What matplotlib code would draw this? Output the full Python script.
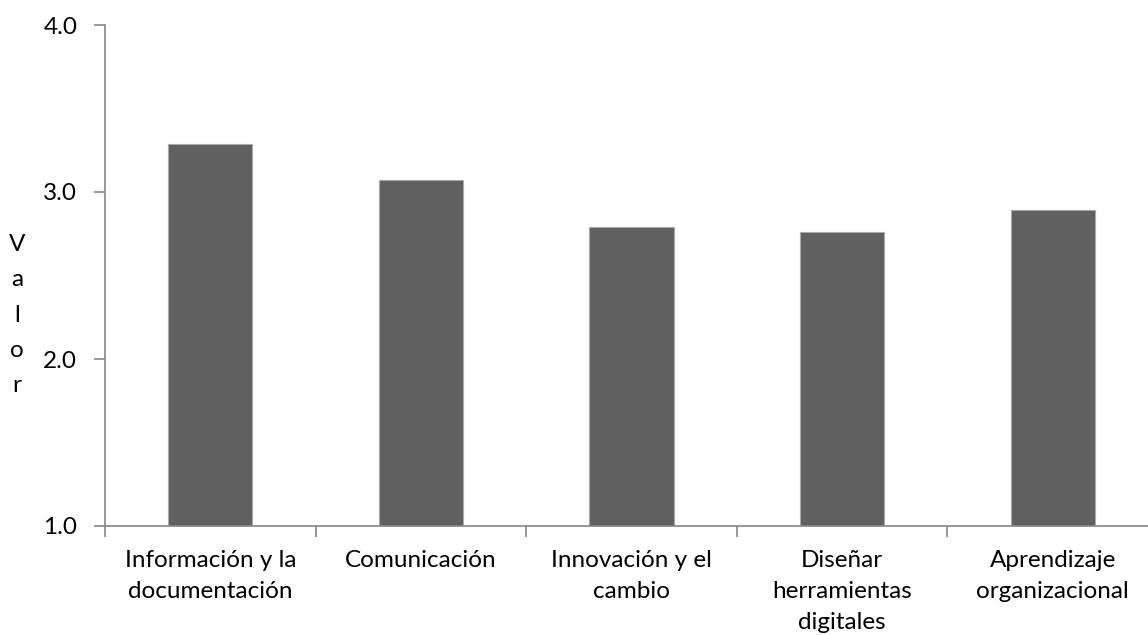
import numpy as np
import matplotlib
matplotlib.use("Agg")
import matplotlib.pyplot as plt

categories = [
    "Información y la\ndocumentación",
    "Comunicación",
    "Innovación y el\ncambio",
    "Diseñar\nherramientas\ndigitales",
    "Aprendizaje\norganizacional",
]
values = [3.29, 3.07, 2.79, 2.76, 2.89]
yticks = [1.0, 2.0, 3.0, 4.0]

plt.rcParams["font.family"] = ["Lato", "DejaVu Sans"]
axis_color = "#868686"
fsize = 17.5

fig = plt.figure(figsize=(11.48, 6.35), dpi=100)
ax = fig.add_axes([105 / 1148, 1 - 526 / 635, 1053 / 1148, 501 / 635])

x = np.arange(len(categories))
ax.bar(x, np.array(values) - 1.0, bottom=1.0, width=0.40,
       color="#606060", edgecolor="#a8a8a8", linewidth=0.8, zorder=2)

ax.set_xlim(-0.5, len(categories) - 0.5)
ax.set_ylim(1.0, 4.0)

ax.set_yticks(yticks)
ax.set_yticklabels([f"{v:.1f}" for v in yticks])
ax.tick_params(axis="y", length=8, width=1.2, color=axis_color,
               labelsize=fsize, pad=12)

ax.set_xticks(x)
ax.set_xticklabels(categories, fontsize=fsize, linespacing=1.6)
ax.set_xticks(np.arange(len(categories) + 1) - 0.5, minor=True)
ax.tick_params(axis="x", which="major", length=0, pad=17)
ax.tick_params(axis="x", which="minor", length=8, width=1.2, color=axis_color)

for side in ["top", "right"]:
    ax.spines[side].set_visible(False)
for side in ["left", "bottom"]:
    ax.spines[side].set_color(axis_color)
    ax.spines[side].set_linewidth(1.2)

fig.text(17 / 1148, 1 - 315 / 635, "V\na\nl\no\nr", fontsize=fsize,
         ha="center", va="center", linespacing=1.84)

fig.savefig("out.png", dpi=100)
